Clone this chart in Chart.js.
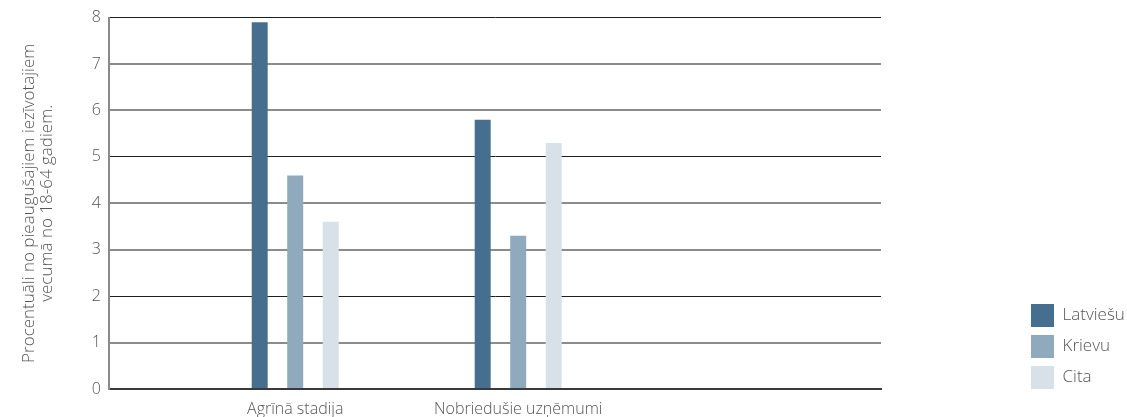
<!DOCTYPE html>
<html lang="lv">
<head>
<meta charset="utf-8">
<title>Uzņēmējdarbības aktivitāte pēc tautības</title>
<script src="https://cdn.jsdelivr.net/npm/chart.js@4/dist/chart.umd.min.js"></script>
<style>
  html, body { margin: 0; padding: 0; background: #ffffff; }
  #wrap { width: 1127px; height: 417px; position: relative; }
</style>
</head>
<body>
<div id="wrap"><canvas id="chart"></canvas></div>
<script>
// Uzņēmējdarbības stadijas (kategorijas uz X ass)
const categories = ["Agrīnā stadija", "Nobriedušie uzņēmumi"];

// Procentuālās vērtības katrai grupai
const latviesu = [7.9, 5.8];
const krievu = [4.6, 3.3];
const cita = [3.6, 5.3];

// Y ass robežas un solis
const yTickMin = 0;
const yTickMax = 8;
const yTickStep = 1;

const seriesNames = ["Latviešu", "Krievu", "Cita"];
const seriesValues = [latviesu, krievu, cita];
const seriesColors = ["#466e8f", "#8fa9bd", "#d9e1e8"];

const textColor = "#555555";
const fontFamily = "'Open Sans', 'Noto Sans', sans-serif";
const legendGap = 8;

// Each category sits at position 1, 2, ... on a linear index axis
const datasets = seriesNames.map((name, s) => ({
  label: name,
  data: seriesValues[s].map((v, i) => ({ x: i + 1, y: v })),
  backgroundColor: seriesColors[s],
  borderWidth: 0,
  categoryPercentage: 0.4776,
  barPercentage: 0.45
}));

// Lower the legend so its last swatch lines up with the baseline
const legendDrop = {
  id: "legendDrop",
  afterLayout(chart) {
    const lg = chart.legend;
    if (lg) { lg.top += legendGap; lg.bottom += legendGap; }
  }
};

new Chart(document.getElementById("chart"), {
  type: "bar",
  data: { datasets },
  plugins: [legendDrop],
  options: {
    responsive: true,
    maintainAspectRatio: false,
    animation: false,
    layout: { padding: { top: 15, right: 0, bottom: 0, left: 0 } },
    plugins: {
      tooltip: { enabled: false },
      legend: {
        position: "right",
        align: "end",
        fullSize: false,
        maxWidth: 104,
        labels: {
          boxWidth: 23,
          boxHeight: 23,
          padding: legendGap,
          color: textColor,
          font: { family: fontFamily, size: 17, weight: "300" }
        }
      }
    },
    scales: {
      x: {
        type: "linear",
        offset: false,
        min: 0.165,
        max: 3.627,
        afterBuildTicks: (scale) => {
          scale.ticks = categories.map((c, i) => ({ value: i + 1 }));
        },
        afterFit: (scale) => { scale.height = 28; },
        grid: { display: false, drawTicks: false, offset: false },
        border: { display: true, color: "#3a3a3a", width: 2 },
        ticks: {
          autoSkip: false,
          maxRotation: 0,
          padding: 11,
          color: textColor,
          font: { family: fontFamily, size: 16, weight: "300" },
          callback: (value) => categories[value - 1] ?? ""
        }
      },
      y: {
        min: yTickMin,
        max: yTickMax,
        afterFit: (scale) => { scale.width = 109; },
        border: { display: true, color: "#8a8a8a", width: 2 },
        grid: {
          drawTicks: false,
          color: (ctx) => {
            const v = ctx.tick.value;
            if (v === yTickMin) return "rgba(0,0,0,0)";
            return (v % 3 === 2) ? "#1e1e1e" : "#8c8c8c";
          },
          lineWidth: (ctx) => (ctx.tick.value % 3 === 2 ? 1 : 2)
        },
        ticks: {
          stepSize: yTickStep,
          padding: 8,
          color: textColor,
          font: { family: fontFamily, size: 16, weight: "300" }
        },
        title: {
          display: true,
          text: ["Procentuāli no pieaugušajiem iezīvotajiem", "vecumā no 18-64 gadiem."],
          color: textColor,
          padding: { top: 20, bottom: 0 },
          font: { family: fontFamily, size: 17, weight: "300", lineHeight: 1.06 }
        }
      },
      // empty space between the plot and the legend
      gap: {
        type: "linear",
        position: "right",
        display: true,
        afterFit: (scale) => { scale.width = 142; },
        grid: { display: false },
        border: { display: false },
        ticks: { display: false }
      }
    }
  }
});
</script>
</body>
</html>
